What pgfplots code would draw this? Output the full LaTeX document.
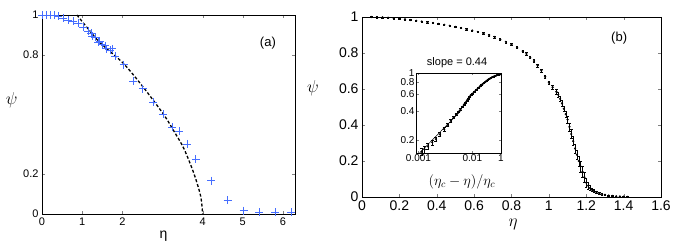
\documentclass[border=0pt]{standalone}
\usepackage{pgfplots}
\pgfplotsset{compat=1.18}
\usepackage{fontspec}
\setmainfont{Liberation Sans}
\definecolor{crossblue}{RGB}{70,110,255}
\begin{document}
\begin{tikzpicture}
\useasboundingbox (0pt,0pt) rectangle (692pt,246pt);
% ---------------- panel (a)
\begin{axis}[at={(42pt,32pt)},anchor=south west,scale only axis,width=253pt,height=199pt,
  xmin=0,xmax=6.3,ymin=0,ymax=1,
  xtick={0,1,2,4,5,6},ytick={0,0.2,0.8,1},
  yticklabels={0,0.2,0.8,1},
  /pgf/number format/assume math mode=true,
  tick label style={font=\fontsize{11}{11}\selectfont},
  tick align=inside,major tick length=3pt,
  axis line style={line width=0.8pt},
  ylabel={$\psi$},ylabel style={rotate=-90,anchor=center,font=\fontsize{17}{17}\selectfont,at={(axis description cs:-0.12,0.57)}},
  xlabel={η},xlabel style={anchor=center,font=\fontsize{14}{14}\selectfont,at={(axis description cs:0.48,-0.11)}},
  clip=false]
\addplot[black,line width=1.3pt,dash pattern=on 3pt off 2pt,smooth] coordinates {
(0.87,1.0)(1.15,0.93)(1.45,0.86)(2.03,0.756)(2.53,0.635)(3.03,0.5)(3.28,0.418)(3.53,0.33)(3.78,0.205)(3.95,0.09)(4.0,0.0)};
\addplot[only marks,mark=+,mark size=4pt,crossblue,line width=0.7pt] coordinates {
(0,1)(0.1,1)(0.2,1)(0.3,1)(0.4,0.995)(0.52,0.985)(0.65,0.975)(0.78,0.968)(0.9,0.958)(1.03,0.94)
(1.15,0.92)(1.23,0.908)(1.32,0.888)(1.44,0.87)(1.57,0.845)(1.69,0.823)(1.83,0.793)(2.03,0.751)
(1.25,0.895)(1.4,0.865)(1.5,0.85)(1.6,0.83)(1.75,0.83)
(2.27,0.667)(2.51,0.63)(2.77,0.563)(3.01,0.5)(3.24,0.437)(3.41,0.415)(3.62,0.352)(3.83,0.276)
(4.22,0.168)(4.62,0.07)(5.02,0.017)(5.41,0.008)(5.81,0.008)(6.2,0.008)};
\node[font=\fontsize{13}{13}\selectfont] at (rel axis cs:0.893,0.86) {(a)};
\end{axis}
% ---------------- panel (b)
\begin{axis}[at={(362pt,49pt)},anchor=south west,scale only axis,width=299pt,height=180pt,
  xmin=0,xmax=1.6,ymin=0,ymax=1,
  xtick={0,0.2,...,1.6},ytick={0,0.2,...,1},
  xticklabels={0,0.2,0.4,0.6,0.8,1,1.2,1.4,1.6},
  yticklabels={0,0.2,0.4,0.6,0.8,1},
  /pgf/number format/assume math mode=true,
  tick label style={font=\fontsize{14}{14}\selectfont},
  tick align=inside,major tick length=3pt,
  axis line style={line width=0.8pt},
  ylabel={$\psi$},ylabel style={rotate=-90,anchor=center,font=\fontsize{17}{17}\selectfont,at={(axis description cs:-0.164,0.605)}},
  xlabel={$\eta$},xlabel style={anchor=center,font=\fontsize{18}{18}\selectfont,at={(axis description cs:0.505,-0.15)}},
  clip=false]
\addplot[only marks,mark=*,mark size=0.9pt,black,error bars/.cd,y dir=both,y explicit,error mark options={rotate=90,mark size=1.2pt}] table[x=x,y=y,y error=e] {
x y e
0.05 1.0 0.003
0.08 0.999 0.003
0.11 0.998 0.003
0.14 0.996 0.003
0.17 0.993 0.003
0.2 0.99 0.003
0.23 0.987 0.003
0.26 0.983 0.003
0.29 0.979 0.003
0.32 0.975 0.003
0.35 0.971 0.003
0.38 0.967 0.003
0.41 0.962 0.004
0.44 0.957 0.004
0.47 0.951 0.004
0.5 0.945 0.004
0.53 0.939 0.004
0.56 0.932 0.004
0.59 0.925 0.004
0.62 0.917 0.004
0.65 0.909 0.005
0.68 0.9 0.005
0.71 0.889 0.005
0.74 0.876 0.005
0.77 0.862 0.005
0.8 0.847 0.006
0.83 0.83 0.006
0.86 0.81 0.006
0.88 0.795 0.007
0.9 0.777 0.007
0.92 0.755 0.008
0.94 0.73 0.008
0.96 0.702 0.009
0.98 0.668 0.01
1.0 0.635 0.01
1.02 0.61 0.01
1.04 0.585 0.012
1.05 0.568 0.012
1.06 0.545 0.014
1.07 0.52 0.015
1.08 0.49 0.016
1.09 0.46 0.018
1.10 0.43 0.02
1.11 0.39 0.022
1.12 0.35 0.024
1.13 0.31 0.025
1.14 0.27 0.026
1.15 0.235 0.027
1.16 0.2 0.028
1.17 0.17 0.03
1.18 0.14 0.03
1.19 0.11 0.028
1.20 0.08 0.025
1.21 0.063 0.02
1.22 0.05 0.015
1.23 0.041 0.01
1.24 0.035 0.008
1.255 0.027 0.006
1.27 0.02 0.005
1.285 0.016 0.004
1.30 0.012 0.003
1.32 0.008 0.003
1.34 0.006 0.002
1.36 0.004 0.002
1.38 0.003 0.002
1.40 0.002 0.002
1.42 0.001 0.001
};
\node[font=\fontsize{13}{13}\selectfont] at (rel axis cs:0.86,0.88) {(b)};
\node[font=\fontsize{11}{11}\selectfont] at (rel axis cs:0.318,0.744) {slope = 0.44};
\end{axis}
% ---------------- inset
\begin{axis}[at={(416pt,93pt)},anchor=south west,scale only axis,width=85pt,height=80pt,
  xmode=log,ymode=log,
  xmin=0.0009,xmax=0.034,ymin=0.147,ymax=1,
  xtick={0.001,0.01,0.034},xticklabels={0.001,0.01,1},
  ytick={0.2,0.4,0.6,0.8,1},yticklabels={0.2,0.4,0.6,0.8,1},
  minor tick num=0,
  /pgf/number format/assume math mode=true,
  tick label style={font=\fontsize{10}{10}\selectfont},
  xticklabel style={yshift=2pt},
  yticklabel style={xshift=2pt,inner ysep=0pt},
  tick align=inside,major tick length=2.5pt,
  axis background/.style={fill=white},
  axis line style={line width=0.6pt},
  xlabel={$(\eta_c-\eta)/\eta_c$},
  xlabel style={anchor=center,font=\fontsize{14}{14}\selectfont,at={(axis description cs:0.54,-0.36)}},
  clip=false]
\addplot[black,line width=0.5pt] coordinates {(0.00105,0.147)(0.006,0.40)};
\addplot[only marks,mark=*,mark size=0.9pt,black,error bars/.cd,y dir=both,y explicit,error mark options={rotate=90,mark size=1.5pt}] table[x=x,y=y,y error=e] {
x y e
0.00115 0.152 0.012
0.0013 0.16 0.012
0.0015 0.172 0.012
0.0018 0.19 0.012
0.0021 0.205 0.012
0.0025 0.23 0.012
0.003 0.26 0.012
0.0035 0.29 0.01
0.004 0.32 0.01
0.0045 0.345 0.008
0.005 0.37 0.008
0.0055 0.395 0.008
0.006 0.42 0.006
0.0065 0.445 0.006
0.007 0.47 0.006
0.0075 0.495 0.006
0.008 0.52 0.006
0.0085 0.545 0.006
0.009 0.57 0.006
0.0095 0.59 0.006
0.010 0.61 0.006
0.011 0.64 0.006
0.012 0.67 0.006
0.013 0.70 0.006
0.014 0.73 0.006
0.015 0.755 0.006
0.016 0.78 0.006
0.017 0.80 0.006
0.018 0.82 0.006
0.019 0.84 0.006
0.020 0.86 0.006
0.0215 0.88 0.006
0.023 0.90 0.006
0.0245 0.915 0.006
0.026 0.93 0.006
0.028 0.945 0.006
0.030 0.96 0.006
0.032 0.968 0.006
0.0335 0.972 0.006
};
\end{axis}
\end{tikzpicture}
\end{document}
